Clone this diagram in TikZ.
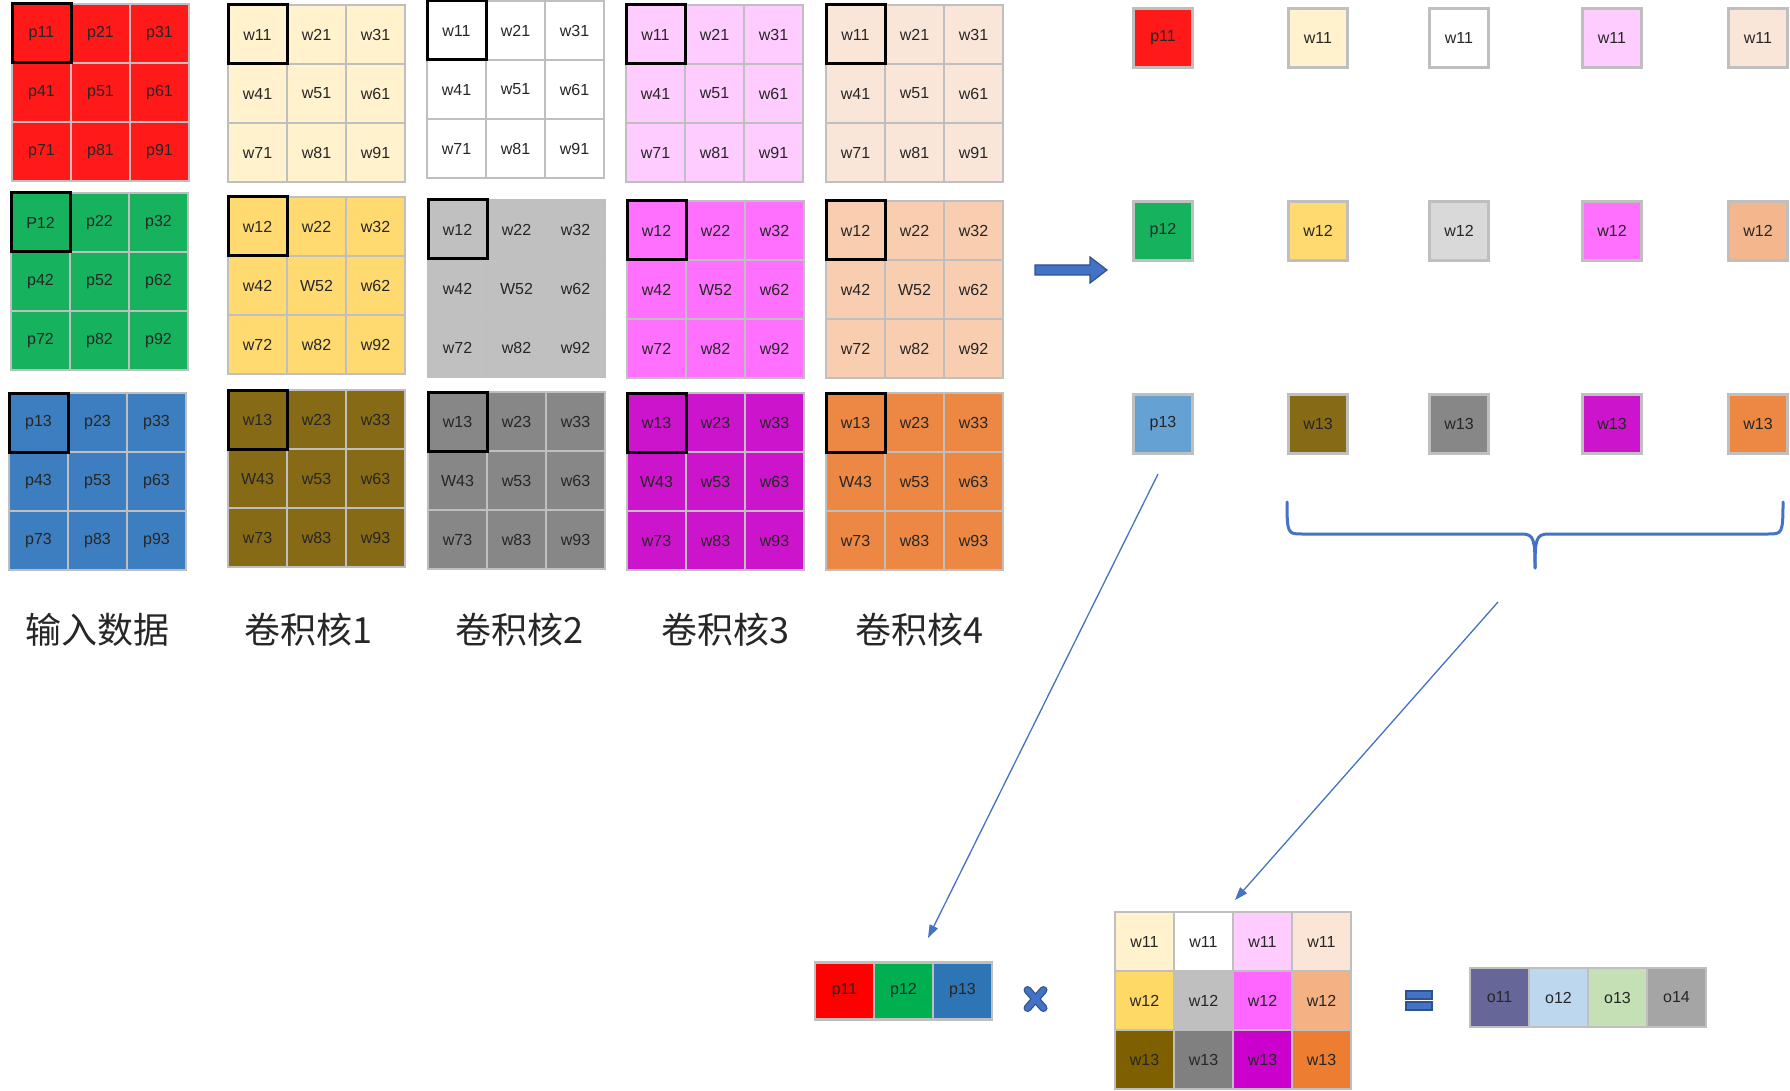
\documentclass[tikz,border=0pt]{standalone}
\usepackage{fontspec}
\setmainfont{Liberation Sans}
\newfontfamily\cjk{Noto Sans CJK SC}
\usetikzlibrary{arrows.meta,calc}
\definecolor{gridgray}{HTML}{BFBFBF}
\definecolor{cRed}{HTML}{FF1919}
\definecolor{cGreen}{HTML}{16B25D}
\definecolor{cBlue}{HTML}{3C7EBF}
\definecolor{cLtBlue}{HTML}{66A1D4}
\definecolor{kAa}{HTML}{FFF2CC}
\definecolor{kAb}{HTML}{FFDA70}
\definecolor{kAc}{HTML}{866A16}
\definecolor{kBa}{HTML}{FFFFFF}
\definecolor{kBb}{HTML}{C0C0C0}
\definecolor{kBbs}{HTML}{D9D9D9}
\definecolor{kBc}{HTML}{878787}
\definecolor{kCa}{HTML}{FFCCFF}
\definecolor{kCb}{HTML}{FF70FF}
\definecolor{kCc}{HTML}{CC14CC}
\definecolor{kDa}{HTML}{FAE6D9}
\definecolor{kDb}{HTML}{F9CDB0}
\definecolor{kDbs}{HTML}{F4B68C}
\definecolor{kDc}{HTML}{EC8843}
\definecolor{mRa}{HTML}{FF0000}
\definecolor{mRb}{HTML}{00B050}
\definecolor{mRc}{HTML}{2E75B6}
\definecolor{mAa}{HTML}{FFF2CC}
\definecolor{mAb}{HTML}{FFD966}
\definecolor{mAc}{HTML}{7F6000}
\definecolor{mBb}{HTML}{BFBFBF}
\definecolor{mBc}{HTML}{808080}
\definecolor{mCb}{HTML}{FF66FF}
\definecolor{mCc}{HTML}{CC00CC}
\definecolor{mDa}{HTML}{FBE5D6}
\definecolor{mDb}{HTML}{F4B183}
\definecolor{mDc}{HTML}{ED7D31}
\definecolor{oA}{HTML}{666699}
\definecolor{oB}{HTML}{BDD7EE}
\definecolor{oC}{HTML}{C5E0B4}
\definecolor{oD}{HTML}{A5A5A5}
\definecolor{lineblue}{HTML}{4472C4}
\definecolor{darkblue}{HTML}{2F528F}
\tikzset{
  cell/.style={draw=gridgray, line width=2.5pt, outer sep=0pt, minimum width=59pt, minimum height=59pt, inner sep=0pt, font=\fontsize{16}{19}\selectfont, text=black!85},
  hl/.style={draw=black, line width=3pt},
  title/.style={font=\cjk\fontsize{36}{40}\selectfont, text=black!85, inner sep=0pt},
  conn/.style={draw=lineblue, line width=1.3pt, -{Triangle[length=13pt,width=9pt]}},
  bracestyle/.style={draw=lineblue, line width=3pt, line cap=round},
  sym/.style={fill=lineblue, draw=darkblue, line width=1.2pt},
}
\newcommand\kgrid[5]{%
  \foreach \lab [count=\i from 0] in {#5} {
    \pgfmathtruncatemacro\rr{\i/3}
    \pgfmathtruncatemacro\cc{\i-3*\rr}
    \node[cell, fill=#3] (#4\i) at ({#1+29.5+59*\cc},{#2+29.5+59*\rr}) {\lab};
  }
  \draw[hl] (#40.north west) rectangle (#40.south east);
}
\begin{document}
\begin{tikzpicture}[x=1pt,y=-1pt]
\useasboundingbox (0,0) rectangle (1790,1091);
% input data
\kgrid{12}{4}{cRed}{inA}{p11,p21,p31,p41,p51,p61,p71,p81,p91}
\kgrid{11}{193}{cGreen}{inB}{P12,p22,p32,p42,p52,p62,p72,p82,p92}
\kgrid{9}{393}{cBlue}{inC}{p13,p23,p33,p43,p53,p63,p73,p83,p93}
% kernels
\kgrid{228}{5}{kAa}{kaA}{w11,w21,w31,w41,w51,w61,w71,w81,w91}
\kgrid{228}{197}{kAb}{kaB}{w12,w22,w32,w42,W52,w62,w72,w82,w92}
\kgrid{228}{390}{kAc}{kaC}{w13,w23,w33,W43,w53,w63,w73,w83,w93}
\kgrid{427}{1}{kBa}{kbA}{w11,w21,w31,w41,w51,w61,w71,w81,w91}
\kgrid{428}{200}{kBb}{kbB}{w12,w22,w32,w42,W52,w62,w72,w82,w92}
\kgrid{428}{392}{kBc}{kbC}{w13,w23,w33,W43,w53,w63,w73,w83,w93}
\kgrid{626}{5}{kCa}{kcA}{w11,w21,w31,w41,w51,w61,w71,w81,w91}
\kgrid{627}{201}{kCb}{kcB}{w12,w22,w32,w42,W52,w62,w72,w82,w92}
\kgrid{627}{393}{kCc}{kcC}{w13,w23,w33,W43,w53,w63,w73,w83,w93}
\kgrid{826}{5}{kDa}{kdA}{w11,w21,w31,w41,w51,w61,w71,w81,w91}
\kgrid{826}{201}{kDb}{kdB}{w12,w22,w32,w42,W52,w62,w72,w82,w92}
\kgrid{826}{393}{kDc}{kdC}{w13,w23,w33,W43,w53,w63,w73,w83,w93}
% titles
\node[title] (t0) at (97,630) {输入数据};
\node[title] (t1) at (308,630) {卷积核1};
\node[title] (t2) at (519,630) {卷积核2};
\node[title] (t3) at (725,630) {卷积核3};
\node[title] (t4) at (919,630) {卷积核4};
% block arrow
\draw[sym] (1035,265) -- (1090,265) -- (1090,257) -- (1107,270) -- (1090,283) -- (1090,275) -- (1035,275) -- cycle;
% right column
\node[cell, fill=cRed] (r11) at (1163,38) {p11};
\node[cell, fill=kAa] (r12) at (1318,38) {w11};
\node[cell, fill=kBa] (r13) at (1459,38) {w11};
\node[cell, fill=kCa] (r14) at (1612,38) {w11};
\node[cell, fill=kDa] (r15) at (1758,38) {w11};
\node[cell, fill=cGreen] (r21) at (1163,231) {p12};
\node[cell, fill=kAb] (r22) at (1318,231) {w12};
\node[cell, fill=kBbs] (r23) at (1459,231) {w12};
\node[cell, fill=kCb] (r24) at (1612,231) {w12};
\node[cell, fill=kDbs] (r25) at (1758,231) {w12};
\node[cell, fill=cLtBlue] (r31) at (1163,424) {p13};
\node[cell, fill=kAc] (r32) at (1318,424) {w13};
\node[cell, fill=kBc] (r33) at (1459,424) {w13};
\node[cell, fill=kCc] (r34) at (1612,424) {w13};
\node[cell, fill=kDc] (r35) at (1758,424) {w13};
% brace
\draw[bracestyle] (1287,502) .. controls (1287,534) and (1288,534) .. (1302,534) -- (1522,534) .. controls (1534,534) and (1535,540) .. (1535,568);
\draw[bracestyle] (1535,568) .. controls (1535,540) and (1536,534) .. (1548,534) -- (1768,534) .. controls (1782,534) and (1783,534) .. (1783,502);
% bottom row vector
\node[cell, fill=mRa, minimum height=57pt] (b1) at (844.5,991) {p11};
\node[cell, fill=mRb, minimum height=57pt] (b2) at (903.5,991) {p12};
\node[cell, fill=mRc, minimum height=57pt] (b3) at (962.5,991) {p13};
% multiply sign
\coordinate (xc) at (1035.5,999);
\draw[line width=8pt, darkblue, line cap=round] ($(xc)+(-8,-9)$) -- ($(xc)+(8,9)$);
\draw[line width=8pt, darkblue, line cap=round] ($(xc)+(-8,9)$) -- ($(xc)+(8,-9)$);
\draw[line width=5.5pt, lineblue, line cap=round] ($(xc)+(-8,-9)$) -- ($(xc)+(8,9)$);
\draw[line width=5.5pt, lineblue, line cap=round] ($(xc)+(-8,9)$) -- ($(xc)+(8,-9)$);
% matrix
\node[cell, fill=mAa] (m11) at (1144.5,941.5) {w11};
\node[cell, fill=white] (m12) at (1203.5,941.5) {w11};
\node[cell, fill=kCa] (m13) at (1262.5,941.5) {w11};
\node[cell, fill=mDa] (m14) at (1321.5,941.5) {w11};
\node[cell, fill=mAb] (m21) at (1144.5,1000.5) {w12};
\node[cell, fill=mBb] (m22) at (1203.5,1000.5) {w12};
\node[cell, fill=mCb] (m23) at (1262.5,1000.5) {w12};
\node[cell, fill=mDb] (m24) at (1321.5,1000.5) {w12};
\node[cell, fill=mAc] (m31) at (1144.5,1059.5) {w13};
\node[cell, fill=mBc] (m32) at (1203.5,1059.5) {w13};
\node[cell, fill=mCc] (m33) at (1262.5,1059.5) {w13};
\node[cell, fill=mDc] (m34) at (1321.5,1059.5) {w13};
% equals sign
\draw[sym] (1406,991) rectangle (1432,999);
\draw[sym] (1406,1002) rectangle (1432,1010);
% output
\node[cell, fill=oA] (o1) at (1499.5,997.5) {o11};
\node[cell, fill=oB] (o2) at (1558.5,997.5) {o12};
\node[cell, fill=oC] (o3) at (1617.5,997.5) {o13};
\node[cell, fill=oD] (o4) at (1676.5,997.5) {o14};
% connectors
\coordinate (c1s) at (1158,474);
\coordinate (c1e) at (928,938);
\coordinate (c2s) at (1498,602);
\coordinate (c2e) at (1235,900);
\draw[conn] (c1s) -- (c1e);
\draw[conn] (c2s) -- (c2e);
\end{tikzpicture}
\end{document}
